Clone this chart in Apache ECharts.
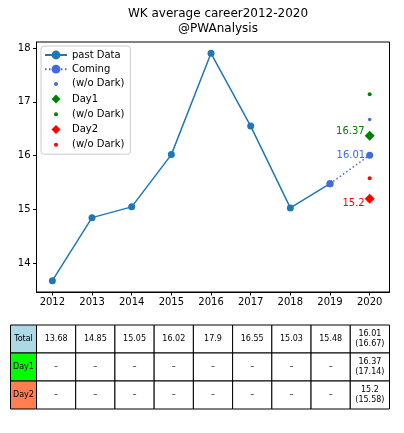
<!DOCTYPE html>
<html>
<head>
<meta charset="utf-8">
<script src="https://cdn.jsdelivr.net/npm/echarts@6/dist/echarts.min.js"></script>
<style>
html,body{margin:0;padding:0;background:#fff;}
#chart{width:404px;height:433px;}
</style>
</head>
<body>
<div id="chart"></div>
<script>
// values
var years = [2012, 2013, 2014, 2015, 2016, 2017, 2018, 2019, 2020];
var pastValues = [13.68, 14.85, 15.05, 16.02, 17.9, 16.55, 15.03, 15.48];
var totalNext = 16.01, totalNoDark = 16.67;
var day1Next = 16.37, day1NoDark = 17.14;
var day2Next = 15.2, day2NoDark = 15.58;
var rowNames = ['Total', 'Day1', 'Day2'];
var rowColors = ['#add8e6', '#00ff00', '#ff7f50'];
var yTicks = [14, 15, 16, 17, 18];

var FONT = 'DejaVu Sans';
var lastYear = years[years.length - 1];
var prevYear = years[years.length - 2];

// legend icons (box padded so the mark stays small)
var dotIcon = 'path://M0,0M22,11M13,5.5A2,2,0,1,1,9,5.5A2,2,0,1,1,13,5.5Z';
var diamondIcon = 'path://M0,0M22,11M11,1L15.5,5.5L11,10L6.5,5.5Z';

// table cell texts
var tableRows = [
	pastValues.map(String).concat([totalNext + '\n(' + totalNoDark + ')']),
	pastValues.map(function(){ return '–'; }).concat([day1Next + '\n(' + day1NoDark + ')']),
	pastValues.map(function(){ return '–'; }).concat([day2Next + '\n(' + day2NoDark + ')'])
];
var tableData = [];
tableRows.forEach(function(row, r){
	row.forEach(function(txt, c){ tableData.push([c, r, txt]); });
});

var myChart = echarts.init(document.getElementById('chart'), null, {renderer: 'canvas'});
var option = {
	animation: false,
	backgroundColor: '#fff',
	textStyle: {fontFamily: FONT},
	title: {
		text: 'WK average career2012-2020\n@PWAnalysis',
		left: 213, top: 1, textAlign: 'center',
		textStyle: {fontFamily: FONT, fontSize: 12, fontWeight: 'normal', color: '#000', lineHeight: 15}
	},
	legend: {
		orient: 'vertical', left: 41, top: 46,
		padding: [4, 6, 4, 3],
		itemGap: 4.2, itemWidth: 22, itemHeight: 11,
		backgroundColor: 'rgba(255,255,255,0.8)',
		borderColor: '#cccccc', borderWidth: 1, borderRadius: 3,
		textStyle: {fontFamily: FONT, fontSize: 10, color: '#000'},
		formatter: function(name){ return name.replace(/\u200b/g, ''); },
		data: [
			{name: 'past Data'},
			{name: 'Coming'},
			{name: '(w/o Dark)', icon: dotIcon},
			{name: 'Day1', icon: diamondIcon},
			{name: '(w/o Dark)\u200b', icon: dotIcon},
			{name: 'Day2', icon: diamondIcon},
			{name: '(w/o Dark)\u200b\u200b', icon: dotIcon}
		]
	},
	grid: [
		{left: 36.5, right: 14.5, top: 42, height: 250, show: true, borderColor: '#000', borderWidth: 1, backgroundColor: 'transparent'},
		{left: 36.5, right: 14.5, top: 325, height: 84}
	],
	xAxis: [
		{
			type: 'value', gridIndex: 0, min: 2011.6, max: 2020.5,
			splitLine: {show: false},
			axisLine: {show: true, onZero: false, lineStyle: {color: '#000', width: 1}},
			axisTick: {show: true, length: 3.5, customValues: years, lineStyle: {color: '#000'}},
			axisLabel: {customValues: years, color: '#000', fontSize: 10, fontFamily: FONT, margin: 5,
				formatter: function(v){ return String(v); }}
		},
		{type: 'category', gridIndex: 1, data: years, show: false}
	],
	yAxis: [
		{
			type: 'value', gridIndex: 0, min: 13.47, max: 18.11,
			splitLine: {show: false},
			axisLine: {show: true, lineStyle: {color: '#000', width: 1}},
			axisTick: {show: true, length: 3.5, customValues: yTicks, lineStyle: {color: '#000'}},
			axisLabel: {customValues: yTicks, color: '#000', fontSize: 10, fontFamily: FONT, margin: 6}
		},
		{type: 'category', gridIndex: 1, data: rowNames, inverse: true, show: false}
	],
	series: [
		{
			name: 'past Data', type: 'line',
			data: years.slice(0, pastValues.length).map(function(y, i){ return [y, pastValues[i]]; }),
			color: '#1f77b4', symbol: 'circle', symbolSize: 7,
			lineStyle: {width: 1.5, color: '#1f77b4'}, itemStyle: {color: '#1f77b4'}
		},
		{
			name: 'Coming', type: 'line',
			data: [[prevYear, pastValues[pastValues.length - 1]], [lastYear, totalNext]],
			color: '#4169e1', symbol: 'circle', symbolSize: 7,
			lineStyle: {width: 1.5, type: [1.5, 2.5], color: '#4169e1'}, itemStyle: {color: '#4169e1'},
			label: {
				show: true, position: 'left', distance: 1, color: '#4169e1', fontSize: 10, fontFamily: FONT,
				formatter: function(p){ return p.dataIndex === 1 ? String(totalNext) : ''; }
			}
		},
		{
			name: '(w/o Dark)', type: 'scatter', data: [[lastYear, totalNoDark]],
			symbol: 'circle', symbolSize: 3.5, itemStyle: {color: '#4169e1', opacity: 1}
		},
		{
			name: 'Day1', type: 'scatter', data: [[lastYear, day1Next]],
			symbol: 'diamond', symbolSize: 10, itemStyle: {color: '#008000', opacity: 1},
			label: {show: true, position: 'left', distance: 0, offset: [0, -4], color: '#008000', fontSize: 10, fontFamily: FONT,
				formatter: String(day1Next)}
		},
		{
			name: '(w/o Dark)\u200b', type: 'scatter', data: [[lastYear, day1NoDark]],
			symbol: 'circle', symbolSize: 4, itemStyle: {color: '#008000', opacity: 1}
		},
		{
			name: 'Day2', type: 'scatter', data: [[lastYear, day2Next]],
			symbol: 'diamond', symbolSize: 10, itemStyle: {color: '#ff0000', opacity: 1},
			label: {show: true, position: 'left', distance: 0, offset: [0, 5], color: '#ff0000', fontSize: 10, fontFamily: FONT,
				formatter: String(day2Next)}
		},
		{
			name: '(w/o Dark)\u200b\u200b', type: 'scatter', data: [[lastYear, day2NoDark]],
			symbol: 'circle', symbolSize: 4, itemStyle: {color: '#ff0000', opacity: 1}
		},
		{
			name: 'table', type: 'custom', xAxisIndex: 1, yAxisIndex: 1,
			data: tableData, silent: true,
			renderItem: function(params, api){
				var c = api.value(0), r = api.value(1);
				var pt = api.coord([c, r]);
				var sz = api.size([1, 1]);
				var x0 = pt[0] - sz[0] / 2, y0 = pt[1] - sz[1] / 2;
				var txt = tableRows[r][c];
				var kids = [
					{type: 'rect', shape: {x: x0, y: y0, width: sz[0], height: sz[1]},
						style: {fill: '#fff', stroke: '#000', lineWidth: 1}},
					{type: 'text', style: {x: pt[0], y: pt[1], text: txt, align: 'center', verticalAlign: 'middle',
						font: '8px "DejaVu Sans"', fill: '#000', lineHeight: 10}}
				];
				if (c === 0) {
					kids.push({type: 'rect', shape: {x: x0 - 26, y: y0, width: 26, height: sz[1]},
						style: {fill: rowColors[r], stroke: '#000', lineWidth: 1}});
					kids.push({type: 'text', style: {x: x0 - 13, y: pt[1], text: rowNames[r], align: 'center', verticalAlign: 'middle',
						font: '8px "DejaVu Sans"', fill: '#000'}});
				}
				return {type: 'group', children: kids};
			}
		}
	]
};
myChart.setOption(option);
</script>
</body>
</html>
